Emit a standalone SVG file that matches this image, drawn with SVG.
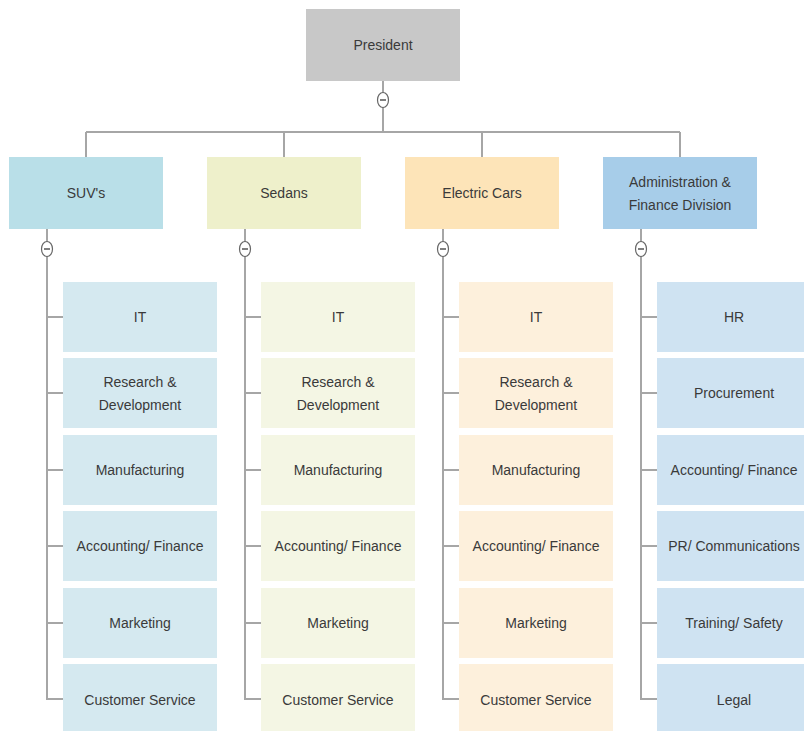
<svg xmlns="http://www.w3.org/2000/svg" width="804" height="731" viewBox="0 0 804 731">
<style>
text{font-family:"Liberation Sans",Arial,sans-serif;font-size:14px;fill:#3a3a3a;text-anchor:middle;dominant-baseline:central}
.ln{stroke:#a6a6a6;stroke-width:2;fill:none}
.btn{fill:#fff;stroke:#666;stroke-width:1.2}
.mn{stroke:#555;stroke-width:1.5}
.c1{fill:#b9dfe8}.k1{fill:#d5e9f0}
.c2{fill:#eef0cb}.k2{fill:#f4f6e4}
.c3{fill:#fde4b8}.k3{fill:#fdf0dc}
.c4{fill:#a7cde9}.k4{fill:#cfe3f2}
</style>
<rect width="804" height="731" fill="#fff"/>
<g id="connectors">
<path class="ln" d="M383 81V132M86 132H680M86 132V157M284 132V157M482 132V157M680 132V157"/>
<path class="ln" d="M47 229V699H63M47 317H63M47 393H63M47 470H63M47 546H63M47 623H63"/>
<path class="ln" d="M245 229V699H261M245 317H261M245 393H261M245 470H261M245 546H261M245 623H261"/>
<path class="ln" d="M443 229V699H459M443 317H459M443 393H459M443 470H459M443 546H459M443 623H459"/>
<path class="ln" d="M641 229V699H657M641 317H657M641 393H657M641 470H657M641 546H657M641 623H657"/>
<g id="buttons">
<ellipse class="btn" cx="383" cy="100" rx="5.5" ry="7.5"/><path class="mn" d="M380 100H386"/>
<ellipse class="btn" cx="47" cy="249" rx="5.5" ry="7.5"/><path class="mn" d="M44 249H50"/>
<ellipse class="btn" cx="245" cy="249" rx="5.5" ry="7.5"/><path class="mn" d="M242 249H248"/>
<ellipse class="btn" cx="443" cy="249" rx="5.5" ry="7.5"/><path class="mn" d="M440 249H446"/>
<ellipse class="btn" cx="641" cy="249" rx="5.5" ry="7.5"/><path class="mn" d="M638 249H644"/>
</g>
</g>
<g id="president"><rect x="306" y="9" width="154" height="72" fill="#c8c8c8"/><text x="383" y="45">President</text></g>
<g id="suvs"><rect class="c1" x="9" y="157" width="154" height="72"/><text x="86" y="193">SUV's</text></g>
<g id="sedans"><rect class="c2" x="207" y="157" width="154" height="72"/><text x="284" y="193">Sedans</text></g>
<g id="electric"><rect class="c3" x="405" y="157" width="154" height="72"/><text x="482" y="193">Electric Cars</text></g>
<g id="admin"><rect class="c4" x="603" y="157" width="154" height="72"/><text x="680" y="182">Administration &amp;</text><text x="680" y="205">Finance Division</text></g>

<g id="suv-it"><rect class="k1" x="63" y="282" width="154" height="70"/><text x="140" y="317">IT</text></g>
<g id="suv-rd"><rect class="k1" x="63" y="358" width="154" height="70"/><text x="140" y="382">Research &amp;</text><text x="140" y="405">Development</text></g>
<g id="suv-mf"><rect class="k1" x="63" y="435" width="154" height="70"/><text x="140" y="470">Manufacturing</text></g>
<g id="suv-af"><rect class="k1" x="63" y="511" width="154" height="70"/><text x="140" y="546">Accounting/ Finance</text></g>
<g id="suv-mk"><rect class="k1" x="63" y="588" width="154" height="70"/><text x="140" y="623">Marketing</text></g>
<g id="suv-cs"><rect class="k1" x="63" y="664" width="154" height="70"/><text x="140" y="700">Customer Service</text></g>

<g id="sed-it"><rect class="k2" x="261" y="282" width="154" height="70"/><text x="338" y="317">IT</text></g>
<g id="sed-rd"><rect class="k2" x="261" y="358" width="154" height="70"/><text x="338" y="382">Research &amp;</text><text x="338" y="405">Development</text></g>
<g id="sed-mf"><rect class="k2" x="261" y="435" width="154" height="70"/><text x="338" y="470">Manufacturing</text></g>
<g id="sed-af"><rect class="k2" x="261" y="511" width="154" height="70"/><text x="338" y="546">Accounting/ Finance</text></g>
<g id="sed-mk"><rect class="k2" x="261" y="588" width="154" height="70"/><text x="338" y="623">Marketing</text></g>
<g id="sed-cs"><rect class="k2" x="261" y="664" width="154" height="70"/><text x="338" y="700">Customer Service</text></g>

<g id="ec-it"><rect class="k3" x="459" y="282" width="154" height="70"/><text x="536" y="317">IT</text></g>
<g id="ec-rd"><rect class="k3" x="459" y="358" width="154" height="70"/><text x="536" y="382">Research &amp;</text><text x="536" y="405">Development</text></g>
<g id="ec-mf"><rect class="k3" x="459" y="435" width="154" height="70"/><text x="536" y="470">Manufacturing</text></g>
<g id="ec-af"><rect class="k3" x="459" y="511" width="154" height="70"/><text x="536" y="546">Accounting/ Finance</text></g>
<g id="ec-mk"><rect class="k3" x="459" y="588" width="154" height="70"/><text x="536" y="623">Marketing</text></g>
<g id="ec-cs"><rect class="k3" x="459" y="664" width="154" height="70"/><text x="536" y="700">Customer Service</text></g>

<g id="ad-hr"><rect class="k4" x="657" y="282" width="154" height="70"/><text x="734" y="317">HR</text></g>
<g id="ad-pr"><rect class="k4" x="657" y="358" width="154" height="70"/><text x="734" y="393">Procurement</text></g>
<g id="ad-af"><rect class="k4" x="657" y="435" width="154" height="70"/><text x="734" y="470">Accounting/ Finance</text></g>
<g id="ad-pc"><rect class="k4" x="657" y="511" width="154" height="70"/><text x="734" y="546">PR/ Communications</text></g>
<g id="ad-ts"><rect class="k4" x="657" y="588" width="154" height="70"/><text x="734" y="623">Training/ Safety</text></g>
<g id="ad-lg"><rect class="k4" x="657" y="664" width="154" height="70"/><text x="734" y="700">Legal</text></g>
</svg>
